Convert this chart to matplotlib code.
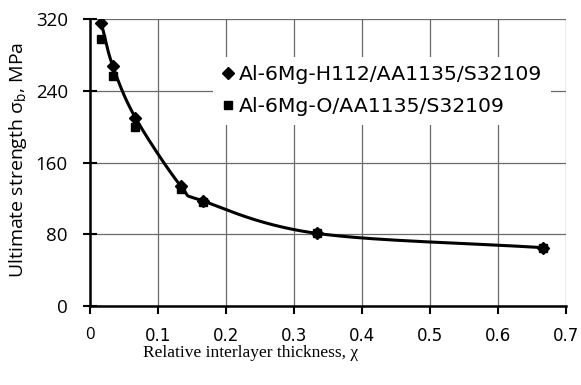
import numpy as np
import matplotlib
matplotlib.use("Agg")
import matplotlib.pyplot as plt

# Data
chi = [0.0167, 0.0333, 0.0667, 0.1333, 0.1667, 0.3333, 0.6667]
sigma_h112 = [315, 268, 210, 134, 117, 81, 65]
sigma_o = [298, 256, 200, 131, 116, 81, 65]
label_h112 = "Al-6Mg-H112/AA1135/S32109"
label_o = "Al-6Mg-O/AA1135/S32109"
xticks = [0, 0.1, 0.2, 0.3, 0.4, 0.5, 0.6, 0.7]
yticks = [0, 80, 160, 240, 320]


def catmull_rom(x, y, n=40):
    x = np.asarray(x, float)
    y = np.asarray(y, float)
    px = np.concatenate([[2 * x[0] - x[1]], x, [2 * x[-1] - x[-2]]])
    py = np.concatenate([[2 * y[0] - y[1]], y, [2 * y[-1] - y[-2]]])
    xs, ys = [], []
    t = np.linspace(0, 1, n)
    for i in range(1, len(px) - 2):
        for arr, out in ((px, xs), (py, ys)):
            p0, p1, p2, p3 = arr[i - 1], arr[i], arr[i + 1], arr[i + 2]
            out.extend(0.5 * ((2 * p1) + (-p0 + p2) * t
                              + (2 * p0 - 5 * p1 + 4 * p2 - p3) * t ** 2
                              + (-p0 + 3 * p1 - 3 * p2 + p3) * t ** 3))
    return np.array(xs), np.array(ys)


W, H = 581, 385
fig = plt.figure(figsize=(W / 100, H / 100), dpi=100)
ax = fig.add_axes([90 / W, 1 - 306 / H, 476 / W, 287 / H])

ax.set_xlim(0, 0.7)
ax.set_ylim(0, 320)
ax.set_xticks(xticks)
ax.set_yticks(yticks)
ax.set_xticklabels(["0" if v == 0 else f"{v:.1f}" for v in xticks])
ax.set_yticklabels([str(v) for v in yticks])
for lab in ax.get_yticklabels():
    lab.set_family("Open Sans")
    lab.set_fontsize(13.5)
ax.get_xticklabels()[0].set_family("Open Sans")
ax.get_xticklabels()[0].set_fontsize(13.5)

ax.grid(True, color="#6a6a6a", lw=0.9)
ax.set_axisbelow(True)
for s in ["top", "right"]:
    ax.spines[s].set_visible(False)
for s in ["left", "bottom"]:
    ax.spines[s].set_linewidth(1.8)
    ax.spines[s].set_zorder(5)

ax.tick_params(axis="x", labelsize=12, length=6, width=1.5, colors="black",
               direction="out", pad=9)
ax.tick_params(axis="y", length=10, width=1.5, colors="black",
               direction="inout", pad=11)

cx, cy = catmull_rom(chi, sigma_h112)
ax.plot(cx, cy, color="black", lw=2.2, zorder=3, clip_on=False)
ax.plot(chi, sigma_h112, ls="none", marker="D", ms=6, color="black",
        label=label_h112, zorder=4)
ax.plot(chi, sigma_o, ls="none", marker="s", ms=5.5, color="black",
        label=label_o, zorder=4)

leg = ax.legend(loc="upper left", bbox_to_anchor=(0.258, 0.868),
                frameon=True, fancybox=False, framealpha=1, facecolor="white",
                edgecolor="none", fontsize=14.7, handlelength=0.6,
                handletextpad=0.25, labelspacing=0.62, borderpad=0.42,
                borderaxespad=0)
leg.set_zorder(6)

ax.set_ylabel(r"Ultimate strength σ$_\mathregular{b}$, MPa", fontsize=14,
              family="Open Sans")
ax.yaxis.set_label_coords(-(90 - 29) / 476, (306 - 160) / 287)
fig.text(143 / W, 1 - 357 / H, "Relative interlayer thickness, χ",
         fontsize=12.5, family="Liberation Serif", ha="left", va="baseline")

fig.savefig("out.png", dpi=100)
